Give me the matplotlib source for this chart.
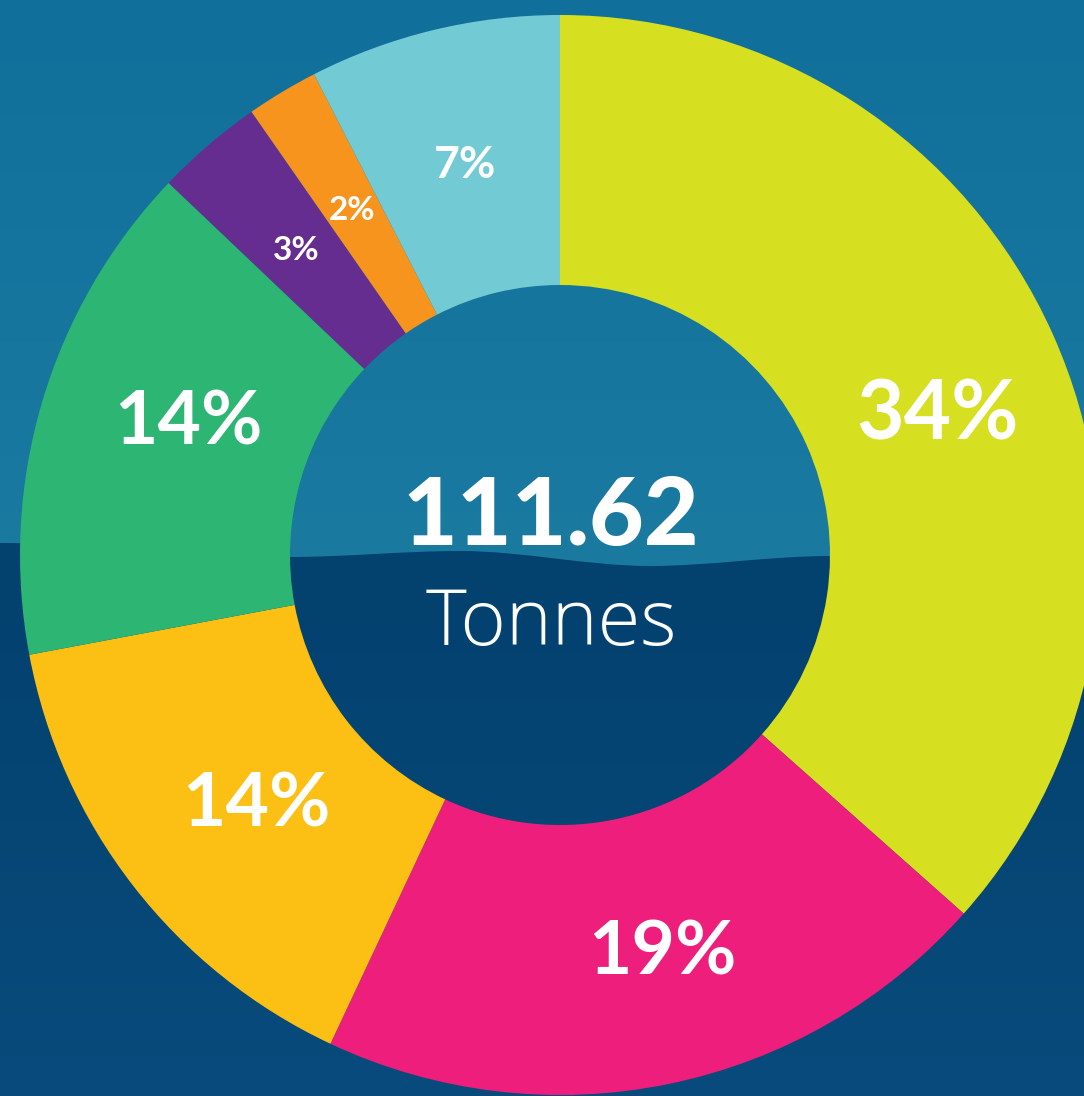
import numpy as np
import matplotlib; matplotlib.use("Agg"); import matplotlib.pyplot as plt
from matplotlib.path import Path
from matplotlib.patches import PathPatch
from matplotlib.colors import to_rgb

# slice shares as printed on the chart, clockwise from 12 o'clock
shares = [34, 19, 14, 14, 3, 2, 7]
labels = ["34%", "19%", "14%", "14%", "3%", "2%", "7%"]
colors = ["#d6e021", "#ee1e7c", "#fbc013", "#2db673", "#652d90", "#f7941e", "#72cbd4"]
label_pt = [59, 54, 54, 54, 24, 24, 32]
nudge = [(-3, 0), (3, 0), (1, -16), (-4, -8), (0, 0), (0, 0), (0, 0)]  # label tweaks: (deg, px)
total, unit = "111.62", "Tonnes"

W, H = 1084, 1096                 # canvas in pixels (dpi 100)
CX, CY, R, RING = 560, 555, 540, 270  # donut centre (px from top), outer radius, ring width
TOP_BG = ("#11709b", "#1a7aa0")   # upper background, top -> wave
LOW_BG = ("#03416e", "#084b7c")   # lower background, wave -> bottom
# wave between the two background tones (px from top)
wave = [(0, 543), (290, 557), (460, 551), (650, 566), (830, 556), (W, 546)]

fig = plt.figure(figsize=(W / 100, H / 100), dpi=100)
ax = fig.add_axes([0, 0, 1, 1])


def vgrad(c_top, c_bot, y_top, y_bot, clip, z):
    t = np.linspace(0, 1, 256)[:, None]
    img = (1 - t) * np.array(to_rgb(c_top)) + t * np.array(to_rgb(c_bot))
    im = ax.imshow(img[:, None, :].repeat(2, 1), extent=(0, W, H - y_bot, H - y_top),
                   aspect="auto", interpolation="bilinear", zorder=z)
    im.set_clip_path(clip)


# ── background: light upper half, navy lower half split by a soft wave ──
verts, codes = [(wave[0][0], H - wave[0][1])], [Path.MOVETO]
for (xa, ya), (xb, yb) in zip(wave[:-1], wave[1:]):
    d = (xb - xa) / 3
    verts += [(xa + d, H - ya), (xb - d, H - yb), (xb, H - yb)]
    codes += [Path.CURVE4] * 3
verts += [(W, 0), (0, 0), (0, H - wave[0][1])]
codes += [Path.LINETO, Path.LINETO, Path.CLOSEPOLY]
low = PathPatch(Path(verts, codes), facecolor="none", lw=0)
ax.add_patch(low)
vgrad(TOP_BG[0], TOP_BG[1], 0, 570, ax.patch, 0)
vgrad(LOW_BG[0], LOW_BG[1], 540, H, low, 1)

# ── donut ──
wedges, _ = ax.pie(shares, colors=colors, startangle=90, counterclock=False,
                   radius=R, center=(CX, H - CY),
                   wedgeprops=dict(width=RING, linewidth=0))
for w in wedges:
    w.set_zorder(2)
for w, lab, fs, (da, dr) in zip(wedges, labels, label_pt, nudge):
    a = np.deg2rad((w.theta1 + w.theta2) / 2 + da)
    rr = R - RING / 2 + dr
    ax.text(CX + rr * np.cos(a), H - CY + rr * np.sin(a), lab, ha="center",
            va="center_baseline", color="white", fontsize=fs, fontweight="bold",
            family="Lato", zorder=3)

ax.text(CX - 9, H - 545, total, ha="center", va="baseline", color="white",
        fontsize=68, fontweight="black", family="Lato", zorder=3)
ax.text(CX - 9, H - 645, unit, ha="center", va="baseline", color="white",
        fontsize=56, fontweight="light", family="Open Sans", zorder=3)

ax.set_xlim(0, W); ax.set_ylim(0, H); ax.axis("off")
fig.savefig("out.png", dpi=100)
